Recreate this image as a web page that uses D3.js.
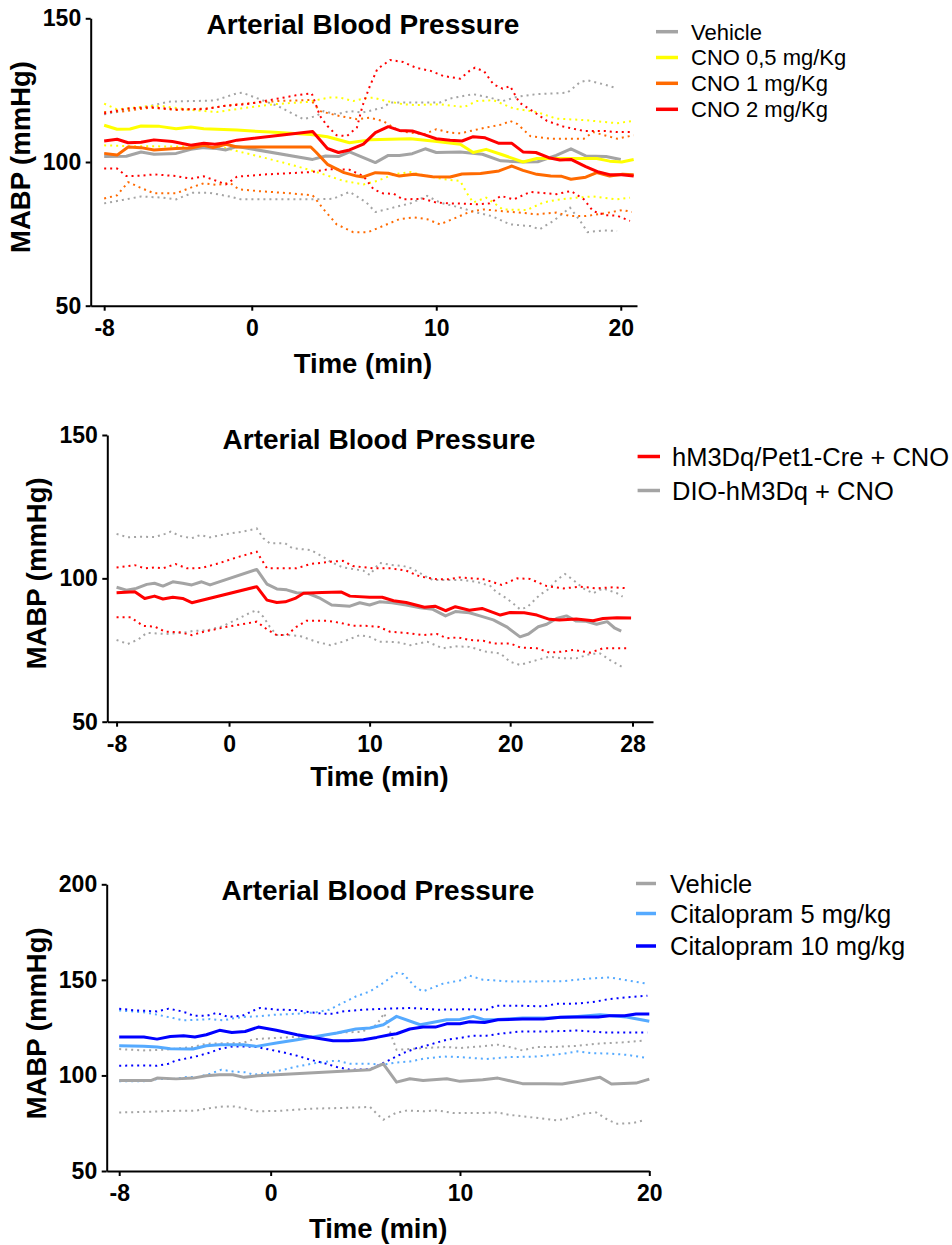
<!DOCTYPE html>
<html><head><meta charset="utf-8">
<script src="https://cdn.jsdelivr.net/npm/d3@7"></script>
<style>
html,body{margin:0;padding:0;background:#fff;}
svg{display:block;}
</style></head><body>
<svg id="chart" width="952" height="1245"></svg>
<script>
// ---------- Panel 1 data (CNO doses) ----------
const p1XTicks = [-8, 0, 10, 20];
const p1XTickLabels = ["-8", "0", "10", "20"];
const p1YTicks = [50, 100, 150];
const p1Legend = ["Vehicle", "CNO 0,5 mg/Kg", "CNO 1 mg/Kg", "CNO 2 mg/Kg"];

const p1VehicleMean = [[-8,101.9],[-6.8,102],[-6,103.5],[-5.3,102.7],[-4.1,103],[-3.3,104.4],[-2.6,105],[-1.9,104.7],[-1.4,104.2],[-0.8,105.4],[3.3,100.9],[4,102.1],[4.7,101.9],[5.3,103.5],[6.7,99.8],[7.4,102.3],[8,102.3],[8.7,102.9],[9.4,104.6],[10,103.3],[11.3,103.5],[12.5,102.7],[13.5,100.4],[14.7,100],[15.5,100.1],[16.5,102.3],[17.3,104.6],[18.1,102.1],[19.2,101.9],[20,100.9]];
const p1VehicleUpper = [[-8,116.6],[-6.8,118],[-5.5,119.5],[-4.5,121],[-3.3,121.2],[-2,121.4],[-0.8,123.9],[-0.5,124.1],[0.45,121.8],[1.4,119.5],[2.1,117.2],[2.8,114.9],[3.5,116],[3.9,117.7],[4.6,116.6],[5.3,117.7],[6,117.2],[7.1,118.9],[7.5,120.7],[8.9,120.7],[10.2,120.7],[10.75,122.1],[12,123.6],[12.9,122.4],[13.6,121.2],[14.4,122.7],[15.4,123.6],[17.1,124.1],[17.8,127.8],[18.2,128.4],[19.1,127],[19.8,125.6]];
const p1VehicleLower = [[-8,85.6],[-7,86.8],[-6,88],[-4.8,87.6],[-4.1,87],[-3.2,89.3],[-2.3,89.3],[-1.2,88],[-0.6,87],[3.5,87],[4.4,87.2],[5.3,89.6],[6.2,86],[6.7,82.6],[7.3,83.5],[8,84.7],[8.6,85.6],[9.5,88.2],[10.2,85.9],[11.3,84.1],[12.2,82.4],[13,81.2],[14,78.3],[15.1,77.7],[15.6,76.6],[16.35,79.5],[17.25,84.1],[17.8,79.5],[18.2,75.6],[19.1,76.2],[19.8,76]];

const p1Cno05Mean = [[-8,112.8],[-7.3,111.4],[-6.6,111.5],[-6,112.5],[-5,112.4],[-4.1,111.6],[-3.3,112.2],[-2.6,111.6],[-0.8,111.1],[1,110.4],[3.2,109.6],[4.1,108.8],[5.3,106.7],[6.4,107.7],[8.6,108.1],[9.8,107.3],[11.3,106.2],[12,103.3],[12.7,104.4],[13.5,102.7],[14.7,100],[15.45,101.2],[17.25,101.2],[18.7,101.2],[19.4,100.3],[20.05,100],[20.7,100.9]];
const p1Cno05Upper = [[-8,120.3],[-7.3,118.3],[-5.5,119.5],[-4.8,119.4],[-3.3,118.1],[-1.9,117.4],[-0.6,118.6],[1.2,120.1],[3,120.9],[4.2,122.4],[4.8,122.4],[5.5,121.2],[6.05,122.1],[6.6,122.4],[7.3,121.2],[8.2,120.1],[8.9,119.8],[10.2,120.1],[11.5,119.1],[12.2,121.2],[13.1,121.5],[14.2,118.6],[15.45,117.4],[16.5,115.1],[18,114.6],[19.8,113.5],[20.7,114.3]];
const p1Cno05Lower = [[-8,105.8],[-6.5,105.5],[-4.25,105.4],[-2.5,105.4],[-1.5,105],[-0.8,103.8],[0.3,102.1],[1.7,99.8],[3,97.5],[3.9,95.7],[5,93.4],[6.05,92.2],[6.8,93.4],[7.7,95.7],[8.6,96.5],[9.1,95.7],[10.4,94],[11.3,93.4],[11.65,89.3],[12,85.9],[12.7,87.6],[13.1,85.9],[13.6,83.5],[14.9,83.3],[15.8,85.9],[16.5,86.8],[17.6,87.6],[18.5,88],[19.8,87],[20.5,87.6]];

const p1Cno1Mean = [[-8,103],[-7.3,102.4],[-6.7,105.2],[-6,105],[-5.3,104.2],[-4.1,104.7],[-3.3,104.9],[-2.6,105.8],[-2.1,105],[-1.4,106.2],[-0.8,105.2],[3.2,105.2],[3.5,103.3],[4.1,99.2],[5,96.3],[5.7,95.1],[6.05,94.8],[6.7,96.3],[7.4,96.1],[8,95.1],[8.8,95.7],[9.8,94.9],[10.75,94.8],[11.4,95.8],[12.4,96],[13.4,96.9],[14.1,98.6],[14.7,97.1],[15.45,95.7],[16.2,95.1],[16.8,95],[17.3,94],[18.1,94.7],[18.7,96.3],[19.4,95.1],[20.1,95.7],[20.7,95.6]];
const p1Cno1Upper = [[-8,117.4],[-7,117.6],[-5.5,118.9],[-4.1,118.1],[-2.5,118.6],[-0.8,120.1],[1.4,121.2],[3.2,121.6],[3.7,117.7],[4.6,116.2],[5.7,114.9],[6.4,115.4],[7.1,114.3],[8,110.8],[9.3,109.6],[10,111.4],[10.75,110.2],[11.3,110],[12.7,112],[13.6,113.1],[14,114.3],[14.4,113.2],[15.1,109],[16.2,108.1],[18,108.1],[18.5,110.4],[19.8,108.1],[20.7,109.3]];
const p1Cno1Lower = [[-8,87.3],[-7.3,88.4],[-6.7,93],[-6.05,91.1],[-5.3,89.1],[-4.1,89.1],[-3.3,91.1],[-2.6,92.6],[-1.9,92],[-1.2,92.8],[-0.7,90.5],[0.3,89.9],[2.1,89.1],[3.3,88.4],[3.9,83.5],[4.6,78.3],[5.5,75.6],[6.3,75.6],[7.1,77.7],[8,80.1],[8.8,80.7],[9.5,80.1],[10.2,78.3],[11.1,80.7],[11.8,82.6],[12.55,83.5],[13.6,82.9],[14.5,82.4],[15.45,81.8],[16.5,82.4],[17.25,81.2],[18.1,81.2],[19.1,82.1],[20.1,83.3],[20.6,82.6]];

const p1Cno2Mean = [[-8,107.3],[-7.3,107.9],[-6.7,106.7],[-6,106.9],[-5.3,107.7],[-4.3,107.1],[-3.3,105.8],[-2.6,106.5],[-2,106.2],[-1.4,106.7],[-0.8,107.6],[3.3,110.6],[4.1,104.7],[4.7,103.3],[5.3,104.2],[6.05,106.2],[6.7,110.2],[7.4,112.3],[8,111],[8.7,110.8],[9.3,109.6],[10,108.1],[10.75,107.6],[11.4,107.3],[12,108.8],[12.65,108.4],[13.4,106.5],[14.1,106.5],[14.7,103.5],[15.4,103.3],[16.1,101.5],[16.7,100.7],[17.3,100.9],[18.1,98.4],[18.8,96.5],[19.4,95.6],[20.05,95.6],[20.7,95.1]];
const p1Cno2Upper = [[-8,116.9],[-6.8,118.6],[-5.5,119.1],[-4.1,118.3],[-2.5,118.4],[-1.5,119.5],[-0.3,120.1],[1.2,121.8],[2.4,123.2],[3.25,123.9],[3.7,116],[4.1,112.5],[4.6,109.3],[5.15,109],[5.7,112],[6,119.5],[6.4,126.4],[6.8,132.3],[7.5,135.5],[8.2,134.8],[8.9,132.8],[9.7,131.7],[10.4,129.9],[11.3,129],[11.8,131.7],[12.1,132.8],[12.6,131.5],[13.1,127],[13.6,125.5],[14,126.4],[14.5,120.7],[15.3,117.4],[16,114.3],[16.9,112.3],[18,110.8],[19.1,110.8],[19.8,110.4],[20.7,110.4]];
const p1Cno2Lower = [[-8,97.7],[-7.3,97.7],[-6.8,95.1],[-6,95.2],[-5.3,95.7],[-4.1,95.1],[-3.3,94.2],[-2.6,95],[-1.9,93.4],[-1.4,92.2],[-0.8,94.9],[0.8,95.7],[3.2,96.5],[4.2,97.5],[5.3,97.3],[6.05,95.1],[6.6,90.5],[7.1,89.1],[7.7,88.9],[8.2,87],[9.3,87.2],[10,85.9],[10.75,85.6],[11.5,85.5],[12.2,85.3],[12.9,85.6],[13.5,88.2],[14.2,87],[15.1,89.6],[15.8,89.2],[16.5,88.8],[17.3,89.9],[18,87],[18.5,82.9],[19.2,81.5],[19.8,81.3],[20.5,79.5]];

// ---------- Panel 2 data (hM3Dq/Pet1-Cre vs DIO) ----------
const p2XTicks = [-8, 0, 10, 20, 28.7];
const p2XTickLabels = ["-8", "0", "10", "20", "28"];
const p2YTicks = [50, 100, 150];
const p2Legend = ["hM3Dq/Pet1-Cre + CNO", "DIO-hM3Dq + CNO"];

const p2CreMean = [[-8,95],[-6.7,95.3],[-6,93],[-5.3,93.8],[-4.7,92.8],[-4,93.4],[-3.3,93],[-2.65,91.5],[1.97,97.1],[2.7,92.4],[3.4,91.6],[4,91.8],[4.7,93],[5.3,94.8],[6.6,95.1],[8,95.2],[8.6,93.8],[10,93.4],[10.9,93.4],[11.7,92.2],[12.6,91.6],[13.9,89.9],[14.65,90.3],[15.4,88.7],[16.1,90.1],[17.1,88.9],[18,89.5],[19.3,87.2],[20,88.1],[21,88],[21.9,87.2],[22.8,85.7],[23.5,85.5],[24.7,85.8],[25.9,85.2],[26.6,86],[27.6,86.3],[28.6,86.2]];
const p2CreUpper = [[-8,103.8],[-6.7,104.6],[-6,103.5],[-5.3,103.8],[-4.7,103.5],[-3.8,105],[-3,103.5],[-2,103.6],[-0.9,105],[0.55,107.3],[1.97,109.3],[2.7,103.5],[4,103.5],[4.8,103.5],[5.8,105],[7.2,105.8],[8.1,106.1],[8.8,104.3],[10.3,103.5],[11.5,103.5],[12.6,102.7],[13.6,100.6],[14.8,99.7],[15.6,99.7],[16.4,100.3],[18.1,99.7],[19.4,97.7],[20.5,100],[21.4,99.8],[22.6,97.3],[23.8,96.5],[25,97.1],[26.15,96.5],[27.3,96.9],[28.4,96.5]];
const p2CreLower = [[-8,86.4],[-7,86.4],[-6.1,83.4],[-5.3,83.2],[-4.55,81.4],[-3.5,81.2],[-2.65,80.2],[-1.8,81.4],[-1,82.2],[-0.16,83.1],[1.26,84.3],[1.97,84.9],[2.7,82.2],[3.4,80.2],[4.1,80.2],[4.8,83.1],[5.5,85.2],[7,85.2],[7.9,84.5],[8.8,83.5],[10,83.4],[10.7,83],[11.45,81.4],[12.9,80.8],[13.8,80.2],[14.8,80.6],[15.5,79.1],[16.3,79.4],[17.1,78.5],[18.1,78.2],[18.8,77.3],[20,77.3],[20.7,75.9],[21.9,75.6],[22.8,74.1],[23.6,74.4],[24.5,75],[25.7,74.1],[26.6,75.6],[28.5,75.6]];

const p2DioMean = [[-8,96.9],[-7.3,95.9],[-6.6,96.5],[-5.85,97.9],[-5.3,98.3],[-4.7,97.3],[-4,98.8],[-3.3,98.3],[-2.65,97.7],[-1.95,98.8],[-1.35,97.7],[1.97,103.1],[2.7,98],[3.4,96.3],[4.1,96],[4.8,95],[5.6,94.8],[6.5,93],[7.3,90.7],[8.6,90.3],[9.3,91.5],[10,90.7],[10.7,91.8],[11.6,91.5],[12.6,90.7],[13.6,89.7],[14.5,89.2],[15.4,86.9],[16.1,88.4],[17.1,88],[17.85,86.9],[18.8,85.5],[19.75,83.1],[20.7,79.6],[21.3,80.6],[22,83.1],[22.6,84],[23.3,86],[24,86.9],[24.7,85.1],[25.4,85],[26.15,84],[26.9,84.9],[27.45,82.6],[27.9,81.6]];
const p2DioUpper = [[-8,115.5],[-7.2,114.3],[-6.2,114.5],[-5.3,114.4],[-4.55,115.5],[-4.15,116.3],[-3.5,114.8],[-2.65,114],[-2.05,115.1],[-1.35,114.3],[-0.16,115.5],[1,116.3],[1.97,117.4],[2.44,114],[2.9,112.2],[4,112.2],[4.5,110.5],[5.8,109.9],[6.7,107.5],[7.2,105.8],[8.1,103.8],[9.55,102.7],[10,101.2],[10.7,105.4],[11.5,104.7],[12.4,104.3],[13,103.5],[13.8,101.2],[14.5,99.4],[15.5,99.4],[16.55,99.4],[17.6,98.8],[18.6,97.3],[19,95.3],[19.75,93],[20.2,91.3],[20.7,89.2],[21.2,89.9],[21.6,91.8],[22.1,94.2],[22.8,96.5],[23.3,99.4],[23.9,101.5],[24.5,99.4],[25.2,96.5],[25.9,94.8],[26.6,96.5],[27.6,94.8],[28,93.6]];
const p2DioLower = [[-8,78.5],[-7.2,77.1],[-6.45,78.7],[-5.85,81],[-4.5,80.6],[-3.3,81],[-2.5,81.7],[-1.5,81.9],[-0.4,83.4],[0.55,85.7],[1.5,88],[1.97,88.9],[2.44,86.6],[2.9,83.1],[3.4,80.2],[4.2,80.2],[5.05,79.9],[6.2,77.9],[7.2,76.7],[8.1,77.9],[9.3,80.2],[10,79.6],[10.7,77.9],[11.9,77.8],[12.9,76.7],[14.1,77.9],[15.2,75.6],[16.1,76.3],[17.1,76.1],[18.3,74.4],[19.3,73.8],[20,70.9],[20.7,69.8],[21.9,71.5],[22.8,72.7],[23.8,72.1],[24.7,72.1],[25.7,73.6],[26.4,73.8],[27.1,71.5],[28,69]];

// ---------- Panel 3 data (Citalopram) ----------
const p3XTicks = [-8, 0, 10, 20];
const p3XTickLabels = ["-8", "0", "10", "20"];
const p3YTicks = [50, 100, 150, 200];
const p3Legend = ["Vehicle", "Citalopram 5 mg/kg", "Citalopram 10 mg/kg"];

const p3VehicleMean = [[-8,97.4],[-6.3,97.4],[-6,98.6],[-5,98.2],[-4.1,98.6],[-3.4,99.8],[-2.7,100.4],[-2,100.4],[-1.4,99],[-0.7,99.8],[5.25,103],[5.95,106.1],[6.65,96.5],[7.35,98.3],[8.05,97.4],[9.3,98.3],[10,96.9],[11.2,97.7],[12,98.6],[13.3,95.7],[14.5,95.7],[15.4,95.5],[16.5,97.4],[17.4,99],[18,95.5],[19.3,96],[20,98.1]];
const p3VehicleUpper = [[-8,113.8],[-6.7,113.1],[-5.5,113.5],[-4.1,114.9],[-3.4,116.6],[-2.5,116.8],[-1.45,117],[-0.9,119],[0.3,119.6],[1.5,120.3],[2.4,120.4],[3.8,122.5],[4.8,122.8],[5.6,126.5],[6,132.6],[6.3,123],[6.65,113.4],[7.35,113.8],[8.05,114.3],[9.3,114.9],[10,114.3],[11.1,115.2],[12,116.1],[12.6,114.9],[13.3,113.1],[14.05,114.9],[15,114.9],[16.2,115.5],[17.2,116.6],[18.6,117.3],[19.7,118.2]];
const p3VehicleLower = [[-8,80.6],[-6.5,81],[-5,81.5],[-4,81.5],[-3.2,82.9],[-2.5,83.8],[-1.9,83.8],[-1.45,82.9],[-0.75,81.2],[0.5,81.5],[2.1,82.6],[3.8,83],[5.25,83.5],[5.6,80],[5.95,76.8],[6.6,80.3],[7.2,81.7],[8.05,81.2],[8.8,81.7],[9.65,80.3],[11,80.3],[12,80.6],[12.6,79.4],[13.7,78.2],[15.1,76.5],[15.8,77.7],[16.5,80],[17.2,80.6],[17.8,76.8],[18.3,74.7],[19.15,75.1],[19.8,76.8]];

const p3Cit5Mean = [[-8,115.5],[-6.7,115.3],[-6,114.9],[-5.3,114],[-4.1,113.8],[-3.4,115.5],[-2.7,116],[-1.45,116],[-0.75,115.2],[0.3,117],[1.4,118.7],[2.4,120.4],[3.5,122.2],[4.5,124.3],[5.25,124.8],[5.95,126.5],[6.65,130.9],[7.9,126.5],[9.3,129.1],[10,129.3],[10.7,130.9],[11.3,129.1],[12,129.3],[13.3,130],[14.7,130],[16.2,130.9],[17.4,131.8],[18.8,130.6],[20,128.3]];
const p3Cit5Upper = [[-8,134],[-6.7,133],[-6,131.8],[-5.15,130],[-4.6,128.8],[-3.9,129.1],[-3.2,129.5],[-2.5,128.8],[-1.9,130],[-1.45,130.6],[-0.75,130.9],[0.3,131.8],[1.4,132.3],[2.4,133],[3.1,134.4],[3.8,137.9],[4.5,141.3],[5.25,144],[5.95,148.4],[6.65,153.6],[7,153.1],[7.7,145.7],[8.05,144],[9.1,148],[10,149.7],[10.5,152.2],[11.2,150.1],[12.6,149.2],[14,149.2],[15.4,149.3],[16.7,150.6],[17.9,151.3],[18.6,150.1],[19.9,148]];
const p3Cit5Lower = [[-8,96.9],[-6.7,96.9],[-6,98.1],[-5.15,98.1],[-4.4,99.2],[-3.8,99.2],[-3.2,100.9],[-2.6,103],[-2,102.1],[-1.3,101.6],[-0.9,100.4],[-0.2,101.3],[0.7,103],[1.4,104.7],[2.4,106.5],[3.5,107.8],[4.2,106.1],[5.25,106.1],[5.9,105.6],[6.65,106.8],[7.35,107.3],[8.05,108.7],[9.1,109.9],[10,109.6],[10.7,109.1],[11.4,108.6],[12.6,109.6],[14.05,109.9],[15.5,111.4],[16.2,112.6],[16.9,111.7],[17.9,111.4],[18.8,110.8],[19.9,109.1]];

const p3Cit10Mean = [[-8,120.1],[-6.7,120.1],[-6,119],[-5.3,120.4],[-4.6,120.8],[-4,120.1],[-3.4,121.3],[-2.7,123.6],[-2.05,122.5],[-1.35,123],[-0.65,125.3],[0.3,123.6],[1.4,121.3],[2.4,119.6],[3.3,118.2],[4.1,118.2],[4.9,118.7],[5.6,119.9],[6.3,121.3],[6.65,121.8],[7.35,124.3],[8.05,125.3],[8.7,125.3],[9.3,127],[10,127],[10.5,128.1],[11.3,127.7],[12,129.1],[13.3,129.5],[14.4,129.5],[15.3,130.4],[16.5,130.6],[17.3,130.6],[17.9,131.2],[18.7,131.2],[19.3,132.1],[20,132.1]];
const p3Cit10Upper = [[-8,134.9],[-7.1,134],[-6,133.5],[-5.4,134.9],[-4.9,134],[-4.4,132.7],[-4.1,131.2],[-3.4,131.2],[-2.85,132.7],[-2.24,130.6],[-1.5,131.2],[-0.9,134],[-0.57,135.3],[0.3,134.4],[1.3,134.2],[2.1,133],[2.8,132.3],[3.3,132.3],[3.8,133.5],[4.9,134.4],[6.1,134.9],[7.4,135.3],[8.8,134.4],[10.2,134.6],[11.4,134.4],[11.9,136.5],[13.2,136.5],[14.4,136.1],[15.1,137.5],[16.3,137.6],[17.2,138.7],[17.9,140],[19,141],[19.9,141.7]];
const p3Cit10Lower = [[-8,105.1],[-6.7,105.2],[-6,105.1],[-5.4,106.1],[-5,107.8],[-4.35,109.1],[-3.8,110.3],[-3.2,112],[-2.7,113.8],[-2,115.2],[-1.3,115.2],[-0.75,114.9],[0,113.4],[0.7,112],[1.4,110.3],[2.1,108.2],[2.8,106.5],[3.5,104.4],[4.2,103],[5.25,103.2],[5.95,106.5],[6.3,108.2],[7,111.7],[7.7,114.3],[8.4,116.1],[9.3,118.7],[10,119.6],[10.7,120.8],[11.4,120.8],[12.1,121.8],[13.2,123],[14.7,123],[16.2,123.5],[17.6,122.5],[18.8,122.5],[19.9,122.5]];

// ---------- colours ----------
const GREY = "#a4a4a4", YELLOW = "#ffff00", ORANGE = "#ff6a00", RED = "#ff0000", LIGHTBLUE = "#55aaff", BLUE = "#0000ff";
const FONT = "'Liberation Sans', Arial, Helvetica, sans-serif";
const TITLE = "Arterial Blood Pressure";
const Y_TITLE = "MABP (mmHg)";
const X_TITLE = "Time (min)";

const svg = d3.select("#chart");

function drawPanel(c) {
  const x = d3.scaleLinear().domain(c.xDomain).range(c.xRange);
  const y = d3.scaleLinear().domain(c.yDomain).range(c.yRange);
  const line = d3.line().x(d => x(d[0])).y(d => y(d[1]));
  const g = svg.append("g");

  // SD dotted lines
  c.series.forEach(s => {
    [s.upper, s.lower].forEach(arr => {
      g.append("path").datum(arr).attr("d", line)
        .attr("fill", "none").attr("stroke", s.color)
        .attr("stroke-width", 2).attr("stroke-dasharray", "2 4");
    });
  });
  // mean lines
  c.series.forEach(s => {
    g.append("path").datum(s.mean).attr("d", line)
      .attr("fill", "none").attr("stroke", s.color)
      .attr("stroke-width", 3).attr("stroke-linejoin", "round");
  });

  // axes
  const xa = g.append("g").attr("transform", `translate(0,${c.yRange[0]})`)
    .call(d3.axisBottom(x).tickValues(c.xTicks).tickFormat((d, i) => c.xTickLabels[i])
      .tickSizeInner(5).tickSizeOuter(0).tickPadding(9));
  const ya = g.append("g").attr("transform", `translate(${c.xRange[0]},0)`)
    .call(d3.axisLeft(y).tickValues(c.yTicks).tickFormat(d3.format("d"))
      .tickSizeInner(5).tickSizeOuter(0).tickPadding(4.5));
  [xa, ya].forEach(a => {
    a.attr("font-family", FONT).attr("font-size", 23);
    a.select(".domain").attr("stroke", "#000").attr("stroke-width", 2);
    a.selectAll(".tick line").attr("stroke", "#000").attr("stroke-width", 2);
    a.selectAll(".tick text").attr("fill", "#000").attr("font-weight", "bold")
      .attr("font-size", 23).attr("font-family", FONT);
  });

  // titles
  g.append("text").attr("x", c.title[0]).attr("y", c.title[1])
    .attr("text-anchor", "middle").attr("font-family", FONT).attr("font-weight", "bold")
    .attr("font-size", 28).text(TITLE);
  g.append("text").attr("x", c.xTitle[0]).attr("y", c.xTitle[1])
    .attr("text-anchor", "middle").attr("font-family", FONT).attr("font-weight", "bold")
    .attr("font-size", 27.5).text(X_TITLE);
  g.append("text").attr("transform", `translate(${c.yTitle[0]},${c.yTitle[1]}) rotate(-90)`)
    .attr("text-anchor", "middle").attr("font-family", FONT).attr("font-weight", "bold")
    .attr("font-size", 27.5).text(Y_TITLE);

  // legend
  const L = c.legend;
  L.labels.forEach((lab, i) => {
    const yy = L.ys[i];
    g.append("line").attr("x1", L.x1).attr("x2", L.x2).attr("y1", yy).attr("y2", yy)
      .attr("stroke", L.colors[i]).attr("stroke-width", 3.5);
    g.append("text").attr("x", L.tx).attr("y", yy).attr("dy", "0.36em")
      .attr("font-family", FONT).attr("font-size", L.size).attr("fill", "#000").text(lab);
  });
}

drawPanel({
  xDomain: [-8.73, 20.88], xRange: [90.7, 637],
  yDomain: [50, 150], yRange: [305.7, 18.3],
  xTicks: p1XTicks, xTickLabels: p1XTickLabels, yTicks: p1YTicks,
  series: [
    {mean: p1VehicleMean, upper: p1VehicleUpper, lower: p1VehicleLower, color: GREY},
    {mean: p1Cno05Mean, upper: p1Cno05Upper, lower: p1Cno05Lower, color: YELLOW},
    {mean: p1Cno1Mean, upper: p1Cno1Upper, lower: p1Cno1Lower, color: ORANGE},
    {mean: p1Cno2Mean, upper: p1Cno2Upper, lower: p1Cno2Lower, color: RED}
  ],
  title: [363, 33.5], xTitle: [363, 373], yTitle: [29.5, 157],
  legend: {labels: p1Legend, colors: [GREY, YELLOW, ORANGE, RED], x1: 656, x2: 678, tx: 691,
           ys: [31.7, 57.5, 83.3, 109.3], size: 22}
});

drawPanel({
  xDomain: [-8.66, 30.16], xRange: [107.3, 653],
  yDomain: [50, 150], yRange: [721.7, 435],
  xTicks: p2XTicks, xTickLabels: p2XTickLabels, yTicks: p2YTicks,
  series: [
    {mean: p2DioMean, upper: p2DioUpper, lower: p2DioLower, color: GREY},
    {mean: p2CreMean, upper: p2CreUpper, lower: p2CreLower, color: RED}
  ],
  title: [379, 448.5], xTitle: [379.5, 786], yTitle: [46.4, 573.3],
  legend: {labels: p2Legend, colors: [RED, GREY], x1: 637.6, x2: 660, tx: 672,
           ys: [456.5, 490.5], size: 25.5}
});

drawPanel({
  xDomain: [-8.66, 20], xRange: [106.7, 649.3],
  yDomain: [50, 200], yRange: [1171, 884.3],
  xTicks: p3XTicks, xTickLabels: p3XTickLabels, yTicks: p3YTicks,
  series: [
    {mean: p3VehicleMean, upper: p3VehicleUpper, lower: p3VehicleLower, color: GREY},
    {mean: p3Cit5Mean, upper: p3Cit5Upper, lower: p3Cit5Lower, color: LIGHTBLUE},
    {mean: p3Cit10Mean, upper: p3Cit10Upper, lower: p3Cit10Lower, color: BLUE}
  ],
  title: [378, 899.5], xTitle: [378.2, 1238], yTitle: [46.4, 1023.3],
  legend: {labels: p3Legend, colors: [GREY, LIGHTBLUE, BLUE], x1: 636, x2: 656, tx: 670,
           ys: [883.5, 913.5, 946], size: 25.5}
});
</script>
</body></html>
